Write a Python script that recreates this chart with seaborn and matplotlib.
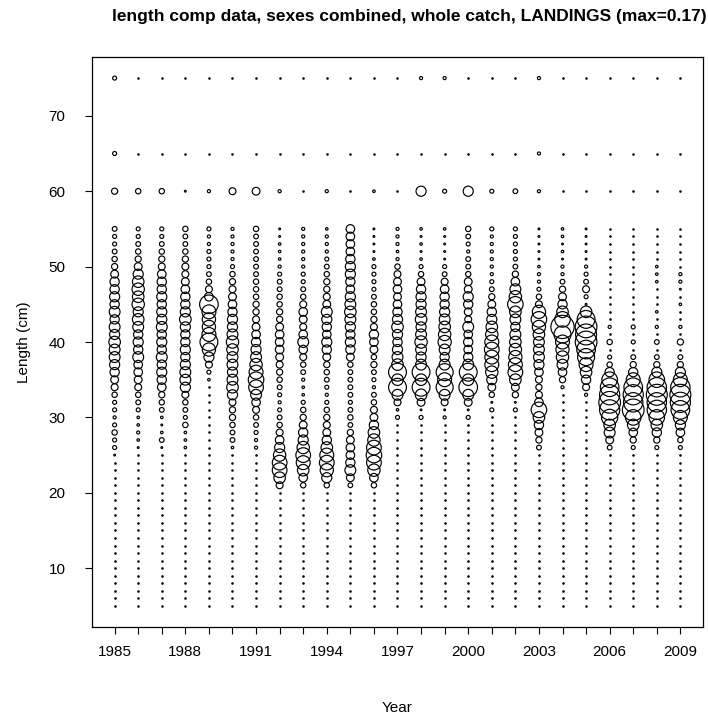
import matplotlib
matplotlib.use("Agg")
import matplotlib.pyplot as plt
import pandas as pd
import seaborn as sns

years = list(range(1985, 2010))
# lengths read top-down: 75, 65, 60, then 55 .. 20 cm
len_top = [75, 65, 60] + list(range(55, 19, -1))
len_low = list(range(5, 20))          # all zero in every year
xtick_labels = [str(y) if (y - 1985) % 3 == 0 else "" for y in years]
ytick_vals = [10, 20, 30, 40, 50, 60, 70]

p1985 = [.005, .005, .012, .007, .005, .005, .007, .009, .012, .019, .027, .027, .032, .027, .037, .027, .037, .032, .042, .037, .037, .032, .027, .019, .015, .009, .005, .005, .003, .005, .009, .005, .005, .001, 0, 0, 0, 0, 0]
p1986 = [0, 0, .009, .005, .005, .007, .009, .012, .019, .032, .042, .048, .042, .048, .032, .042, .037, .027, .032, .027, .037, .023, .023, .019, .015, .009, .007, .005, .002, .002, .003, .002, .001, 0, 0, 0, 0, 0, 0]
p1987 = [0, 0, .009, .005, .005, .007, .009, .012, .015, .023, .027, .027, .032, .027, .032, .032, .037, .027, .032, .027, .037, .027, .032, .027, .023, .012, .009, .007, .002, .001, .002, .007, .001, 0, 0, 0, 0, 0, 0]
p1988 = [0, 0, .001, .009, .007, .007, .009, .012, .015, .015, .019, .023, .027, .027, .032, .042, .032, .027, .027, .032, .027, .032, .037, .037, .032, .015, .009, .007, .005, .009, .002, .002, .002, 0, 0, 0, 0, 0, 0]
p1989 = [0, 0, .003, .005, .003, .003, .005, .005, .005, .007, .009, .015, .023, .109, .061, .055, .055, .061, .100, .055, .032, .015, .005, .002, 0, 0, 0, 0, 0, 0, 0, 0, 0, 0, 0, 0, 0, 0, 0]
p1990 = [0, 0, .015, .003, .003, .003, .003, .003, .005, .009, .012, .015, .019, .023, .027, .032, .032, .037, .048, .042, .037, .037, .032, .037, .042, .032, .015, .012, .012, .009, .007, .007, .002, 0, 0, 0, 0, 0, 0]
p1991 = [0, 0, .019, .009, .007, .007, .007, .007, .007, .007, .009, .009, .009, .012, .012, .015, .019, .023, .027, .032, .037, .048, .061, .076, .068, .037, .023, .015, .009, .007, .005, .003, .003, 0, 0, 0, 0, 0, 0]
p1992 = [0, 0, .003, .001, .001, .002, .002, .002, .003, .005, .007, .007, .009, .009, .012, .012, .019, .023, .023, .023, .019, .015, .012, .009, .007, .005, .003, .005, .007, .009, .015, .023, .032, .048, .068, .068, .042, .015, 0]
p1993 = [0, 0, 0, .003, .003, .003, .003, .003, .003, .005, .005, .007, .009, .015, .023, .019, .015, .023, .037, .023, .015, .009, .007, .003, .002, .002, .005, .009, .012, .019, .027, .032, .048, .068, .061, .042, .023, .009, 0]
p1994 = [0, 0, .003, .002, .003, .003, .003, .005, .007, .009, .012, .012, .015, .019, .037, .032, .027, .023, .032, .027, .019, .012, .009, .007, .005, .003, .005, .009, .012, .015, .019, .027, .042, .061, .068, .055, .032, .009, 0]
p1995 = [0, 0, 0, .023, .023, .023, .023, .027, .032, .032, .027, .023, .032, .037, .042, .037, .032, .027, .032, .027, .019, .009, .007, .007, .007, .007, .005, .007, .009, .007, .012, .019, .023, .023, .027, .037, .019, .007, 0]
p1996 = [0, 0, .002, .001, .001, .001, .001, .002, .005, .005, .005, .005, .007, .009, .009, .012, .015, .027, .023, .019, .009, .012, .007, .005, .003, .007, .009, .015, .019, .027, .042, .048, .068, .076, .068, .048, .023, .009, 0]
p1997 = [0, 0, 0, .003, .003, .003, .002, .003, .009, .015, .019, .023, .019, .023, .027, .032, .042, .032, .027, .032, .037, .042, .100, .042, .100, .037, .015, .002, .005, 0, 0, 0, 0, 0, 0, 0, 0, 0, 0]
p1998 = [.003, 0, .032, .002, .001, .002, .001, .002, .005, .009, .019, .027, .032, .032, .037, .042, .032, .037, .048, .037, .032, .037, .100, .042, .100, .042, .019, .001, .005, 0, 0, 0, 0, 0, 0, 0, 0, 0, 0]
p1999 = [.003, 0, .005, .002, .001, .001, .001, .001, .005, .007, .015, .023, .027, .027, .032, .037, .042, .048, .055, .037, .027, .037, .091, .061, .091, .037, .015, .001, .003, 0, 0, 0, 0, 0, 0, 0, 0, 0, 0]
p2000 = [0, 0, .032, .009, .007, .005, .003, .007, .007, .009, .019, .019, .032, .027, .019, .015, .037, .023, .027, .023, .027, .037, .100, .042, .109, .037, .019, .001, .005, 0, 0, 0, 0, 0, 0, 0, 0, 0, 0]
p2001 = [0, 0, .005, .005, .003, .003, .003, .003, .003, .003, .005, .007, .012, .019, .027, .032, .042, .048, .061, .068, .061, .061, .048, .032, .019, .009, .001, .005, 0, 0, 0, 0, 0, 0, 0, 0, 0, 0, 0]
p2002 = [0, 0, .007, .005, .005, .005, .005, .005, .007, .012, .023, .037, .048, .076, .042, .037, .027, .037, .042, .048, .055, .061, .068, .042, .019, .012, .001, .005, 0, 0, 0, 0, 0, 0, 0, 0, 0, 0, 0]
p2003 = [.003, .003, .003, .001, .001, .001, .001, .001, .002, .003, .003, .005, .009, .015, .055, .076, .055, .042, .037, .037, .037, .032, .023, .015, .012, .015, .023, .076, .042, .027, .019, .012, .007, 0, 0, 0, 0, 0, 0]
p2004 = [0, 0, 0, .002, .002, .001, .002, .001, .003, .003, .007, .012, .019, .027, .042, .076, .170, .091, .061, .055, .048, .037, .023, .012, .003, 0, 0, 0, 0, 0, 0, 0, 0, 0, 0, 0, 0, 0, 0]
p2005 = [0, 0, 0, .001, .001, .001, .001, .001, .003, .005, .007, .015, .005, .001, .042, .100, .148, .138, .148, .109, .091, .061, .042, .027, .015, .003, 0, 0, 0, 0, 0, 0, 0, 0, 0, 0, 0, 0, 0]
p2006 = [0, 0, 0, 0, 0, 0, 0, 0, 0, 0, 0, 0, 0, 0, 0, 0, .003, 0, .009, 0, .005, .009, .027, .076, .109, .128, .148, .128, .083, .042, .037, .019, .007, 0, 0, 0, 0, 0, 0]
p2007 = [0, 0, 0, 0, 0, 0, 0, 0, 0, 0, 0, 0, 0, 0, 0, 0, .005, 0, .005, 0, .007, .012, .027, .061, .109, .128, .118, .148, .076, .042, .023, .012, .005, 0, 0, 0, 0, 0, 0]
p2008 = [0, 0, 0, 0, 0, 0, 0, 0, .002, .002, .002, 0, 0, 0, .002, 0, .003, 0, .007, 0, .007, .012, .032, .076, .118, .138, .118, .118, .076, .042, .027, .012, .005, 0, 0, 0, 0, 0, 0]
p2009 = [0, 0, 0, 0, 0, 0, 0, 0, 0, .003, .003, .001, 0, .002, 0, 0, .003, 0, .012, 0, .007, .012, .032, .061, .118, .138, .128, .109, .061, .032, .023, .009, .005, 0, 0, 0, 0, 0, 0]

comp = [p1985, p1986, p1987, p1988, p1989, p1990, p1991, p1992, p1993, p1994,
        p1995, p1996, p1997, p1998, p1999, p2000, p2001, p2002, p2003, p2004,
        p2005, p2006, p2007, p2008, p2009]

rows = []
for yr, vals in zip(years, comp):
    assert len(vals) == len(len_top), (yr, len(vals))
    for L, v in zip(len_top, vals):
        rows.append((yr, L, v))
    for L in len_low:
        rows.append((yr, L, 0.0))
df = pd.DataFrame(rows, columns=["Year", "Length", "prop"])
pos = df[df["prop"] > 0]
zero = df[df["prop"] == 0]

sns.set_theme(style="ticks")
plt.rcParams["font.family"] = ["Liberation Sans", "DejaVu Sans"]

W, H = 708, 717
fig = plt.figure(figsize=(W / 100, H / 100), dpi=100)
ax = fig.add_axes([92 / W, 1 - 627 / H, (703 - 92) / W, (627 - 57) / H])

sns.scatterplot(data=zero, x="Year", y="Length", ax=ax, s=3.5, color="black",
                marker="o", linewidth=0, legend=False)
sns.scatterplot(data=pos, x="Year", y="Length", size="prop", sizes=(0, 280),
                size_norm=(0, 0.17), ax=ax, facecolor="none", edgecolor="black",
                linewidth=0.85, legend=False)

ax.set_xlim(1984.04, 2009.96)
ax.set_ylim(2.2, 77.8)
ax.set_xticks(years)
ax.set_xticklabels(xtick_labels)
ax.set_yticks(ytick_vals)
ax.set_yticklabels([str(v) for v in ytick_vals])
ax.tick_params(axis="both", direction="out", length=5, width=0.8, color="black",
               labelsize=11, labelcolor="black")
ax.tick_params(axis="x", pad=8)
ax.tick_params(axis="y", pad=14)
for sp in ax.spines.values():
    sp.set_visible(True)
    sp.set_color("black")
    sp.set_linewidth(0.9)
ax.set_xlabel("Year", fontsize=11, color="black", labelpad=30)
ax.set_ylabel("Length (cm)", fontsize=11, color="black", labelpad=13)
fig.text(409 / W, 1 - 17 / H,
         "length comp data, sexes combined, whole catch, LANDINGS (max=0.17)",
         fontsize=12.5, fontweight="bold", color="black", ha="center", va="center")

fig.savefig("out.png", dpi=100, facecolor="white")
